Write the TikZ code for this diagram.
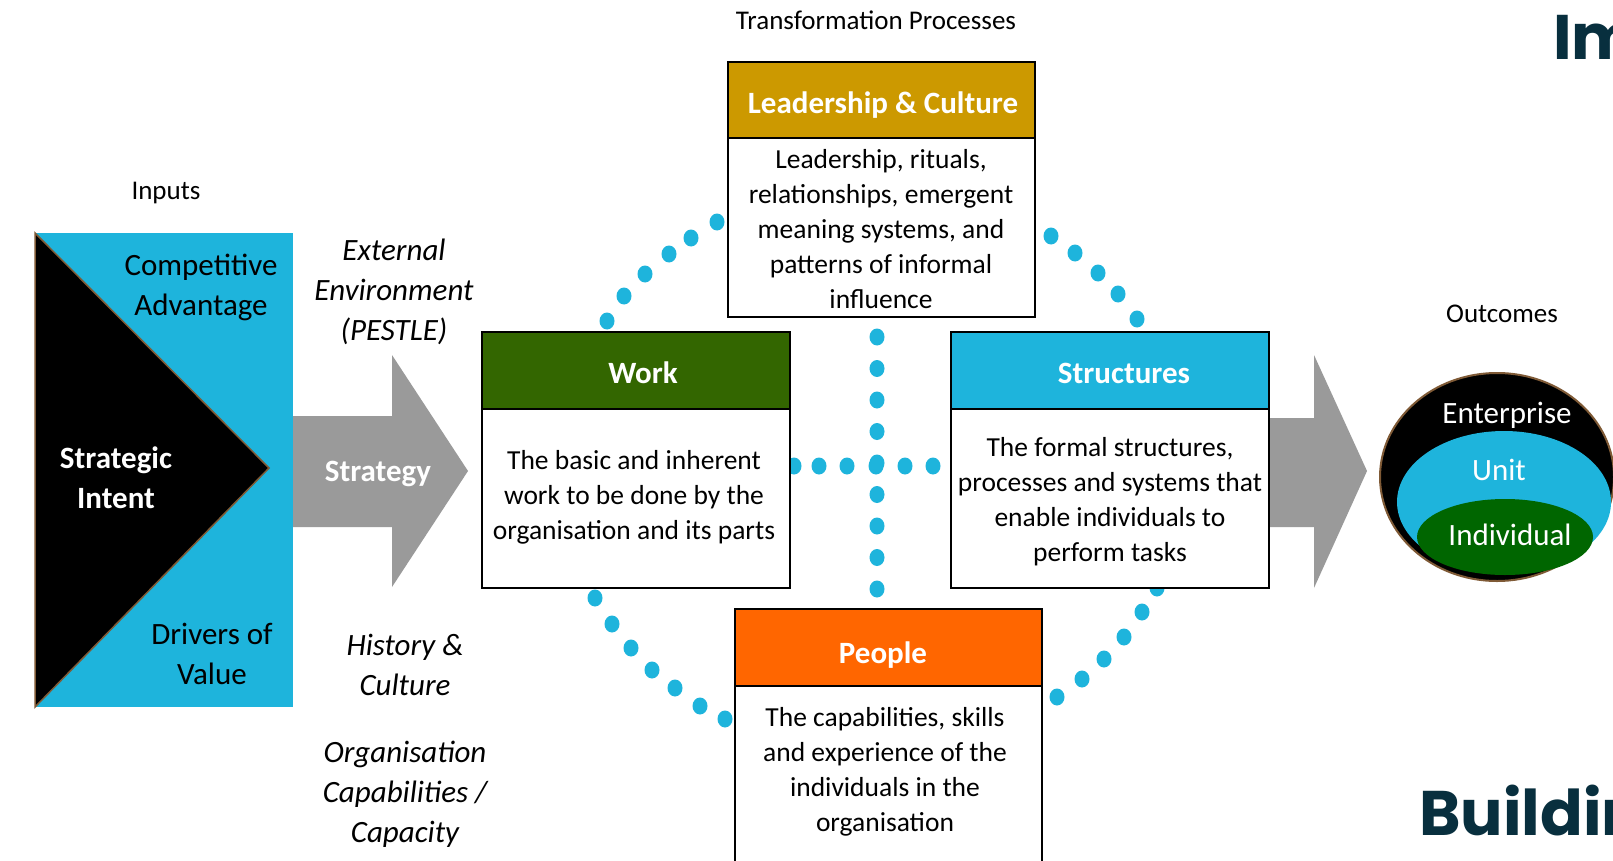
\documentclass[tikz,border=0pt]{standalone}
\usepackage{fontspec}
\setmainfont{Carlito}
\newfontfamily\titlefont{Poppins}
\usetikzlibrary{shapes.geometric}
\definecolor{cyanc}{HTML}{1EB4DC}
\definecolor{goldc}{HTML}{CC9900}
\definecolor{workg}{HTML}{336600}
\definecolor{orangec}{HTML}{FF6600}
\definecolor{grayarrow}{HTML}{9A9A9A}
\definecolor{indg}{HTML}{006600}
\definecolor{brownc}{HTML}{7F5A36}
\definecolor{darkteal}{HTML}{082F3E}
\begin{document}
\begin{tikzpicture}[x=1pt,y=-1pt,
  boxshape/.style={draw=black, line width=2.5pt, inner sep=0pt, outer sep=0pt},
  bodytext/.style={font=\fontsize{27.5}{35}\selectfont, align=center, inner sep=0pt},
  hdrtext/.style={font=\fontsize{31}{38}\selectfont\bfseries, text=white, inner sep=0pt},
  smalllbl/.style={font=\fontsize{27}{33}\selectfont, inner sep=0pt},
  biglbl/.style={font=\fontsize{31}{40}\selectfont, align=center, inner sep=0pt},
  itlbl/.style={font=\fontsize{31}{40}\selectfont\itshape, align=center, inner sep=0pt},
  dotfill/.style={fill=cyanc},
  bigtitle/.style={font=\titlefont\bfseries\fontsize{63}{63}\selectfont, text=darkteal, inner sep=0pt, anchor=base west}
]
\path[use as bounding box, clip] (0,0) rectangle (1613,861);
\fill[white] (0,0) rectangle (1613,861);

% ---- Inputs block
\fill[cyanc] (35,233) rectangle (293,707);
\draw[fill=black, draw=brownc, line width=1.5pt] (35,233) -- (269,468) -- (35,707) -- cycle;
\node[smalllbl] (inputs) at (166,193) {Inputs};
\node[biglbl] (compadv) at (201,287) {Competitive\\Advantage};
\node[biglbl] (drivers) at (212,654) {Drivers of\\Value};
\node[biglbl, font=\fontsize{31}{40}\selectfont\bfseries, text=white] (intent) at (116,478) {Strategic\\Intent};

% ---- Strategy arrow
\fill[grayarrow] (293,416) -- (392,416) -- (392,355) -- (468,471) -- (392,587) -- (392,527) -- (293,527) -- cycle;
\node[hdrtext] (strategy) at (378,474) {Strategy};

% ---- Context labels
\node[itlbl] (extenv) at (394,292) {External\\Environment\\(PESTLE)};
\node[itlbl] (history) at (405,665) {History \&\\Culture};
\node[itlbl] (orgcap) at (405,794) {Organisation\\Capabilities /\\Capacity};

% ---- Dotted links
\foreach \x/\y in {607/321,624/296,645/274,669/254,691/238,717/222,
                   1051/236,1075/253,1098/273,1118/294,1137/319,
                   595/598,612/624,631/648,652/670,675/688,700/706,725/719,
                   1057/697,1082/679,1104/659,1124/637,1142/612,1157/588,
                   794/466,819/466,847/466,876/466,905/466,933/466}
  \fill[dotfill] (\x,\y) ellipse [x radius=7.5pt, y radius=8.5pt];
\foreach \i in {0,...,8}
  \fill[dotfill] (877,{337+31.5*\i}) ellipse [x radius=7.5pt, y radius=8.5pt];

% ---- Outcome arrow
\fill[grayarrow] (1255,418) -- (1314,418) -- (1314,355) -- (1367,471) -- (1314,588) -- (1314,527) -- (1255,527) -- cycle;

% ---- Transformation process boxes
\node[smalllbl] (transf) at (876,20) {Transformation Processes};

\node[boxshape, fill=goldc, minimum width=307pt, minimum height=76pt] (lh) at (881.5,100) {};
\node[boxshape, fill=white, minimum width=307pt, minimum height=179pt] (lb) at (881.5,227.5) {};
\node[hdrtext] (lt) at (883,105) {Leadership \& Culture};
\node[bodytext] (ltx) at (881,229) {Leadership, rituals,\\relationships, emergent\\meaning systems, and\\patterns of informal\\influence};

\node[boxshape, fill=workg, minimum width=308pt, minimum height=77pt] (wh) at (636,370.5) {};
\node[boxshape, fill=white, minimum width=308pt, minimum height=179pt] (wb) at (636,498.5) {};
\node[hdrtext] (wt) at (643,373) {Work};
\node[bodytext] (wtx) at (634,497) {The basic and inherent\\work to be done by the\\organisation and its parts};

\node[boxshape, fill=cyanc, minimum width=318pt, minimum height=77pt] (sh) at (1110,370.5) {};
\node[boxshape, fill=white, minimum width=318pt, minimum height=179pt] (sb) at (1110,498.5) {};
\node[hdrtext] (st) at (1124,373) {Structures};
\node[bodytext] (stx) at (1110,502) {The formal structures,\\processes and systems that\\enable individuals to\\perform tasks};

\node[boxshape, fill=orangec, minimum width=307pt, minimum height=77pt] (ph) at (888.5,647.5) {};
\node[boxshape, fill=white, minimum width=307pt, minimum height=194pt] (pb) at (888.5,783) {};
\node[hdrtext] (pt) at (883,655) {People};
\node[bodytext] (ptx) at (885,772) {The capabilities, skills\\and experience of the\\individuals in the\\organisation};

% ---- Outcomes
\node[smalllbl] (outc) at (1502,314) {Outcomes};
\node[ellipse, fill=black, draw=brownc, line width=2pt, minimum width=234pt, minimum height=208pt, inner sep=0pt] (ent) at (1497,477) {};
\node[ellipse, fill=cyanc, minimum width=214pt, minimum height=142pt, inner sep=0pt] (unit) at (1504,502) {};
\node[ellipse, fill=indg, minimum width=176pt, minimum height=76pt, inner sep=0pt] (indiv) at (1505,537) {};
\node[biglbl, text=white] (entt) at (1507,415) {Enterprise};
\node[biglbl, text=white] (unitt) at (1499,470) {Unit};
\node[biglbl, text=white] (indivt) at (1510,535) {Individual};

% ---- Clipped titles
\node[bigtitle] (im) at (1553,60) {Im};
\node[bigtitle] (bld) at (1419,835) {Buildin};
\end{tikzpicture}
\end{document}
